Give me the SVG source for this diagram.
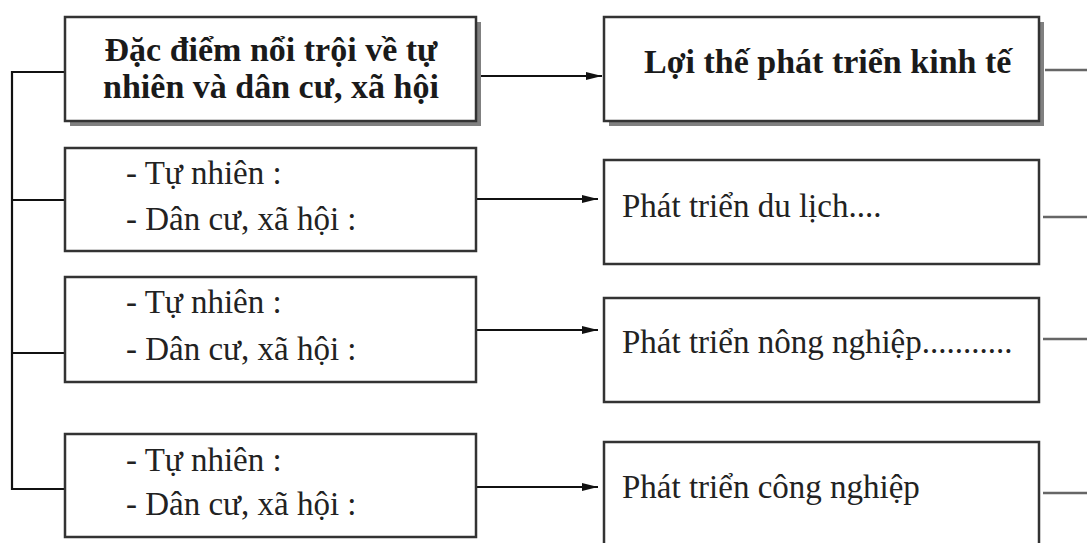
<svg xmlns="http://www.w3.org/2000/svg" width="1087" height="543" viewBox="0 0 1087 543">
<defs>
<marker id="arr" viewBox="0 0 16 10" refX="16" refY="5" markerWidth="16" markerHeight="10" markerUnits="userSpaceOnUse" orient="auto">
<path d="M0,1 L16,5 L0,9 z" fill="#111"/>
</marker>
<style>
.box{fill:#fff;stroke:#333;stroke-width:2.5}
.shadow{fill:#808080}
.b{font-family:"Liberation Serif","Times New Roman",serif;font-weight:bold;font-size:34px;fill:#1a1a1a}
.r{font-family:"Liberation Serif","Times New Roman",serif;font-size:33px;fill:#222}
.ln{fill:none;stroke:#111;stroke-width:2.2}
.stub{fill:none;stroke:#666;stroke-width:2.5}
</style>
</defs>
<rect width="1087" height="543" fill="#fff"/>

<g id="connectors">
<path class="ln" d="M65,72 H12 V489 H65"/>
<path class="ln" d="M12,200 H65"/>
<path class="ln" d="M12,353 H65"/>
<path class="ln" d="M481,76 H602" marker-end="url(#arr)"/>
<path class="ln" d="M476,199 H598" marker-end="url(#arr)"/>
<path class="ln" d="M476,330 H598" marker-end="url(#arr)"/>
<path class="ln" d="M476,487 H598" marker-end="url(#arr)"/>
<path class="stub" d="M1045,70 H1087"/>
<path class="stub" d="M1043,217 H1087"/>
<path class="stub" d="M1043,339 H1087"/>
<path class="stub" d="M1043,493 H1087"/>
</g>

<g id="left-title">
<rect class="shadow" x="70" y="22" width="411" height="104"/>
<rect class="box" x="65" y="17" width="411" height="104"/>
<text class="b" x="271" y="61" text-anchor="middle">Đặc điểm nổi trội về tự</text>
<text class="b" x="271" y="98" text-anchor="middle">nhiên và dân cư, xã hội</text>
</g>

<g id="right-title">
<rect class="shadow" x="609" y="22" width="435" height="104"/>
<rect class="box" x="604" y="17" width="435" height="104"/>
<text class="b" x="644" y="73">Lợi thế phát triển kinh tế</text>
</g>

<g id="left-2">
<rect class="box" x="65" y="148" width="411" height="103"/>
<text class="r" x="126" y="184">- Tự nhiên :</text>
<text class="r" x="126" y="230">- Dân cư, xã hội :</text>
</g>

<g id="left-3">
<rect class="box" x="65" y="277" width="411" height="105"/>
<text class="r" x="126" y="313">- Tự nhiên :</text>
<text class="r" x="126" y="360">- Dân cư, xã hội :</text>
</g>

<g id="left-4">
<rect class="box" x="65" y="434" width="411" height="103"/>
<text class="r" x="126" y="471">- Tự nhiên :</text>
<text class="r" x="126" y="515">- Dân cư, xã hội :</text>
</g>

<g id="right-2">
<rect class="box" x="604" y="160" width="435" height="104"/>
<text class="r" x="622" y="217">Phát triển du lịch....</text>
</g>

<g id="right-3">
<rect class="box" x="604" y="298" width="435" height="104"/>
<text class="r" x="622" y="353">Phát triển nông nghiệp...........</text>
</g>

<g id="right-4">
<rect class="box" x="604" y="442" width="435" height="120"/>
<text class="r" x="622" y="498">Phát triển công nghiệp</text>
</g>
</svg>
